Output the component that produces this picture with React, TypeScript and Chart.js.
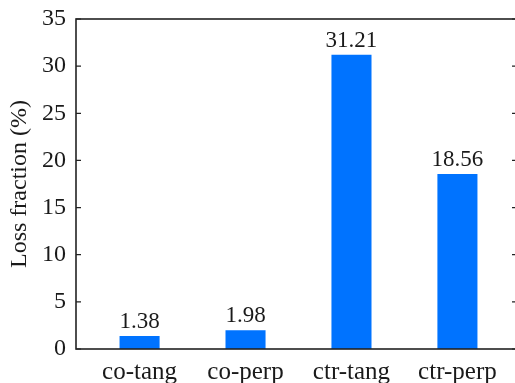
import React, { useEffect, useRef } from 'react';
import { Chart, registerables } from 'chart.js';

Chart.register(...registerables);

// Loss fraction per channel (%)
const categories = ['co-tang', 'co-perp', 'ctr-tang', 'ctr-perp'];
const lossFraction = [1.38, 1.98, 31.21, 18.56];
const yTicks = [0, 5, 10, 15, 20, 25, 30, 35];

const FONT = "'Liberation Serif', 'Times New Roman', serif";
const BAR_COLOR = '#0073ff';
const AXIS_COLOR = '#222222';
const TEXT_COLOR = '#1a1a1a';

// Draws the boxed frame with inward ticks and the value labels above bars
const frameAndLabels = {
  id: 'frameAndLabels',
  afterDatasetsDraw(chart: any) {
    const { ctx, chartArea, scales } = chart;
    const { left, right, top, bottom } = chartArea;
    const y = scales.y;
    ctx.save();

    ctx.fillStyle = TEXT_COLOR;
    ctx.font = `23px ${FONT}`;
    ctx.textAlign = 'center';
    ctx.textBaseline = 'alphabetic';
    const meta = chart.getDatasetMeta(0);
    meta.data.forEach((bar: any, i: number) => {
      ctx.fillText(lossFraction[i].toFixed(2), bar.x, bar.y - 8);
    });

    ctx.strokeStyle = AXIS_COLOR;
    ctx.lineWidth = 1.6;
    ctx.strokeRect(left, top, right - left, bottom - top);

    ctx.lineWidth = 1.2;
    ctx.beginPath();
    yTicks.forEach((v) => {
      const py = y.getPixelForValue(v);
      ctx.moveTo(left, py);
      ctx.lineTo(left + 5, py);
      ctx.moveTo(right, py);
      ctx.lineTo(right - 9, py);
    });
    ctx.stroke();
    ctx.restore();
  },
};

export default function App() {
  const canvasRef = useRef<HTMLCanvasElement | null>(null);

  useEffect(() => {
    if (!canvasRef.current) return;
    const chart = new Chart(canvasRef.current, {
      type: 'bar',
      data: {
        datasets: [
          {
            label: 'Loss fraction',
            data: lossFraction.map((v, i) => ({ x: i + 1, y: v })),
            backgroundColor: BAR_COLOR,
            borderWidth: 0,
            barPercentage: 0.378,
            categoryPercentage: 1,
          },
        ],
      },
      options: {
        responsive: false,
        maintainAspectRatio: false,
        animation: false,
        layout: { padding: { top: 19, right: 9, bottom: 0, left: 0 } },
        plugins: {
          legend: { display: false },
          tooltip: { enabled: false },
        },
        scales: {
          x: {
            type: 'linear',
            min: 0.4,
            max: 4.6,
            offset: false,
            grid: { display: false, offset: false },
            border: { display: false },
            afterBuildTicks: (s: any) => {
              s.ticks = categories.map((_, i) => ({ value: i + 1 }));
            },
            afterFit: (s: any) => {
              s.height = 34;
              s.paddingLeft = 0;
              s.paddingRight = 0;
            },
            ticks: {
              autoSkip: false,
              maxRotation: 0,
              padding: 0,
              color: TEXT_COLOR,
              font: { family: FONT, size: 25 },
              callback: (_v: any, i: number) => categories[i],
            },
          },
          y: {
            min: 0,
            max: 35,
            grid: { display: false, drawTicks: false },
            border: { display: false },
            afterFit: (s: any) => {
              s.width = 76;
              s.paddingTop = 0;
              s.paddingBottom = 0;
            },
            ticks: {
              stepSize: 5,
              padding: 10,
              color: TEXT_COLOR,
              font: { family: FONT, size: 24 },
            },
            title: {
              display: true,
              text: 'Loss fraction (%)',
              color: TEXT_COLOR,
              font: { family: FONT, size: 24 },
              padding: { top: 5, bottom: 0 },
            },
          },
        },
      },
      plugins: [frameAndLabels],
    });
    return () => chart.destroy();
  }, []);

  return (
    <div
      style={{
        position: 'fixed',
        left: 0,
        top: 0,
        width: 515,
        height: 383,
        overflow: 'hidden',
        background: '#fff',
      }}
    >
      <canvas ref={canvasRef} width={530} height={383} />
    </div>
  );
}
